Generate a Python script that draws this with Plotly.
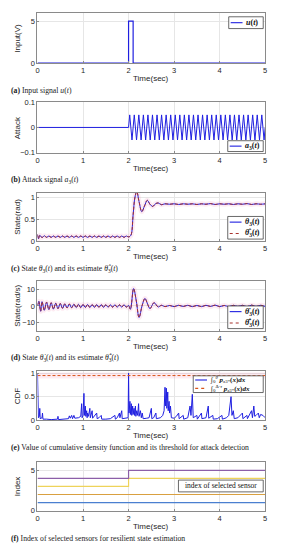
import plotly.graph_objects as go

# ---------------- data ----------------
time_ticks = [0, 1, 2, 3, 4, 5]

# (a) input signal
u_t = [0.0, 2.0, 2.0, 2.1, 2.1, 5.0]
u_v = [0, 0, 5, 5, 0, 0]

# (b) attack signal a3(t)
attack_t = [0.0, 2.0, 2.025, 2.075, 2.125, 2.175, 2.225, 2.275, 2.325, 2.375, 2.425, 2.475,
            2.525, 2.575, 2.625, 2.675, 2.725, 2.775, 2.825, 2.875, 2.925, 2.975,
            3.025, 3.075, 3.125, 3.175, 3.225, 3.275, 3.325, 3.375, 3.425, 3.475,
            3.525, 3.575, 3.625, 3.675, 3.725, 3.775, 3.825, 3.875, 3.925, 3.975,
            4.025, 4.075, 4.125, 4.175, 4.225, 4.275, 4.325, 4.375, 4.425, 4.475,
            4.525, 4.575, 4.625, 4.675, 4.725, 4.775, 4.825, 4.875, 4.925, 4.975, 5.0]
attack_v = [0.0, 0.0, 0.05, -0.05, 0.05, -0.05, 0.05, -0.05, 0.05, -0.05, 0.05, -0.05,
            0.05, -0.05, 0.05, -0.05, 0.05, -0.05, 0.05, -0.05, 0.05, -0.05,
            0.05, -0.05, 0.05, -0.05, 0.05, -0.05, 0.05, -0.05, 0.05, -0.05,
            0.05, -0.05, 0.05, -0.05, 0.05, -0.05, 0.05, -0.05, 0.05, -0.05,
            0.05, -0.05, 0.05, -0.05, 0.05, -0.05, 0.05, -0.05, 0.05, -0.05,
            0.05, -0.05, 0.05, -0.05, 0.05, -0.05, 0.05, -0.05, 0.05, -0.05, 0.0]

# (c) state theta3(t) and its estimate
theta_t = [0.00, 0.02, 0.05, 0.10, 0.15, 0.20, 0.25, 0.30, 0.35, 0.40, 0.45, 0.50, 0.55, 0.60,
           0.65, 0.70, 0.75, 0.80, 0.85, 0.90, 0.95, 1.00, 1.05, 1.10, 1.15, 1.20, 1.25, 1.30,
           1.35, 1.40, 1.45, 1.50, 1.55, 1.60, 1.65, 1.70, 1.75, 1.80, 1.85, 1.90, 1.95, 2.00,
           2.05, 2.10, 2.14, 2.18, 2.23, 2.29, 2.35, 2.41, 2.47, 2.53, 2.59, 2.65, 2.72, 2.80,
           2.90, 3.00, 3.10, 3.20, 3.30, 3.40, 3.50, 3.60, 3.70, 3.80, 3.90, 4.00, 4.10, 4.20,
           4.30, 4.40, 4.50, 4.60, 4.70, 4.80, 4.90, 5.00]
theta_v = [0.15, 0.05, 0.13, 0.08, 0.12, 0.085, 0.115, 0.085, 0.115, 0.085, 0.115, 0.085, 0.115, 0.085,
           0.115, 0.085, 0.115, 0.085, 0.115, 0.085, 0.115, 0.085, 0.115, 0.085, 0.115, 0.085, 0.115, 0.085,
           0.115, 0.085, 0.115, 0.085, 0.115, 0.085, 0.115, 0.085, 0.115, 0.085, 0.115, 0.085, 0.115, 0.095,
           0.13, 0.60, 1.00, 1.13, 0.90, 0.67, 0.80, 0.93, 0.84, 0.79, 0.85, 0.87, 0.83, 0.85,
           0.84, 0.85, 0.835, 0.85, 0.84, 0.85, 0.835, 0.85, 0.84, 0.855, 0.835, 0.85, 0.84, 0.85,
           0.835, 0.85, 0.84, 0.855, 0.835, 0.85, 0.84, 0.85]
theta_hat_v = [0.15, 0.05, 0.13, 0.08, 0.12, 0.085, 0.115, 0.085, 0.115, 0.085, 0.115, 0.085, 0.115, 0.085,
               0.115, 0.085, 0.115, 0.085, 0.115, 0.085, 0.115, 0.085, 0.115, 0.085, 0.115, 0.085, 0.115, 0.085,
               0.115, 0.085, 0.115, 0.085, 0.115, 0.085, 0.115, 0.085, 0.115, 0.085, 0.115, 0.085, 0.115, 0.095,
               0.13, 0.60, 1.00, 1.13, 0.90, 0.67, 0.80, 0.93, 0.84, 0.79, 0.85, 0.87, 0.83, 0.85,
               0.84, 0.85, 0.835, 0.85, 0.84, 0.85, 0.835, 0.85, 0.84, 0.855, 0.835, 0.85, 0.84, 0.85,
               0.835, 0.85, 0.84, 0.855, 0.835, 0.85, 0.84, 0.85]

# (d) state derivative and its estimate
dtheta_t = [0.00, 0.03, 0.07, 0.10, 0.15, 0.20, 0.25, 0.30, 0.35, 0.40, 0.45, 0.50, 0.55, 0.60,
            0.65, 0.70, 0.75, 0.80, 0.85, 0.90, 0.95, 1.00, 1.05, 1.10, 1.15, 1.20, 1.25, 1.30,
            1.35, 1.40, 1.45, 1.50, 1.55, 1.60, 1.65, 1.70, 1.75, 1.80, 1.85, 1.90, 1.95, 2.00,
            2.04, 2.11, 2.17, 2.23, 2.30, 2.36, 2.42, 2.47, 2.56, 2.65, 2.72, 2.80, 2.90, 3.00,
            3.10, 3.20, 3.30, 3.40, 3.50, 3.60, 3.70, 3.80, 3.90, 4.00, 4.10, 4.20, 4.30, 4.40,
            4.50, 4.60, 4.70, 4.80, 4.90, 5.00]
dtheta_v = [0.0, 2.8, -3.2, 2.6, -2.6, 2.3, -2.2, 2.0, -1.9, 1.7, -1.6, 1.5, -1.4, 1.3,
            -1.2, 1.2, -1.1, 1.1, -1.0, 1.0, -1.0, 0.9, -0.9, 0.9, -0.9, 0.8, -0.8, 0.8,
            -0.8, 0.8, -0.8, 0.7, -0.7, 0.7, -0.7, 0.7, -0.7, 0.7, -0.7, 0.7, -0.7, 0.3,
            -2.0, 10.6, 3.0, -7.0, 0.5, 4.6, 1.0, -1.6, 2.0, -0.6, 0.4, -0.4, 0.3, -0.4,
            0.4, -0.3, 0.4, -0.4, 0.3, -0.4, 0.4, -0.3, 0.5, -0.4, 0.3, -0.4, 0.4, -0.3,
            0.4, -0.4, 0.5, -0.3, 0.4, -0.3]
dtheta_hat_v = [0.0, 2.8, -3.2, 2.6, -2.6, 2.3, -2.2, 2.0, -1.9, 1.7, -1.6, 1.5, -1.4, 1.3,
                -1.2, 1.2, -1.1, 1.1, -1.0, 1.0, -1.0, 0.9, -0.9, 0.9, -0.9, 0.8, -0.8, 0.8,
                -0.8, 0.8, -0.8, 0.7, -0.7, 0.7, -0.7, 0.7, -0.7, 0.7, -0.7, 0.7, -0.7, 0.3,
                -2.0, 10.6, 3.0, -7.0, 0.5, 4.6, 1.0, -1.6, 2.0, -0.6, 0.4, -0.4, 0.3, -0.4,
                0.4, -0.3, 0.4, -0.4, 0.3, -0.4, 0.4, -0.3, 0.5, -0.4, 0.3, -0.4, 0.4, -0.3,
                0.4, -0.4, 0.5, -0.3, 0.4, -0.3]

# (e) CDF value and threshold
cdf_t = [0.000, 0.005, 0.020, 0.040, 0.050, 0.060, 0.100, 0.110, 0.120, 0.200, 0.300, 0.440, 0.450, 0.460,
         0.600, 0.680, 0.700, 0.720, 0.750, 0.770, 0.800, 0.820, 0.900, 0.950, 0.970, 0.980, 1.000, 1.020,
         1.030, 1.050, 1.060, 1.080, 1.090, 1.100, 1.120, 1.150, 1.160, 1.200, 1.210, 1.250, 1.300, 1.310,
         1.350, 1.400, 1.410, 1.500, 1.600, 1.700, 1.710, 1.750, 1.800, 1.810, 1.850, 1.860, 1.950, 1.990,
         2.000, 2.010, 2.030, 2.040, 2.060, 2.070, 2.090, 2.100, 2.120, 2.130, 2.150, 2.160, 2.180, 2.200,
         2.220, 2.230, 2.260, 2.280, 2.300, 2.320, 2.400, 2.450, 2.500, 2.510, 2.550, 2.600, 2.610, 2.700,
         2.750, 2.780, 2.800, 2.810, 2.830, 2.840, 2.860, 2.870, 2.890, 2.900, 2.920, 2.940, 3.000, 3.050,
         3.100, 3.110, 3.200, 3.210, 3.300, 3.350, 3.370, 3.400, 3.420, 3.500, 3.510, 3.600, 3.610, 3.700,
         3.750, 3.760, 3.850, 3.860, 3.950, 4.050, 4.060, 4.150, 4.200, 4.250, 4.270, 4.300, 4.320, 4.400,
         4.500, 4.510, 4.600, 4.610, 4.700, 4.720, 4.750, 4.770, 4.800, 4.850, 4.870, 4.900, 4.950, 5.000]
cdf_v = [1.00, 0.10, 0.05, 0.08, 0.25, 0.03, 0.05, 0.15, 0.02, 0.02, 0.01, 0.02, 0.08, 0.01,
         0.02, 0.03, 0.09, 0.04, 0.10, 0.03, 0.10, 0.04, 0.05, 0.08, 0.35, 0.05, 0.10, 0.57,
         0.10, 0.30, 0.08, 0.20, 0.05, 0.15, 0.08, 0.25, 0.05, 0.20, 0.04, 0.08, 0.15, 0.03,
         0.05, 0.10, 0.02, 0.02, 0.03, 0.10, 0.02, 0.05, 0.15, 0.05, 0.20, 0.03, 0.05, 0.05,
         1.00, 0.15, 0.40, 0.12, 0.35, 0.10, 0.30, 0.12, 0.25, 0.10, 0.30, 0.08, 0.20, 0.10,
         0.35, 0.08, 0.20, 0.05, 0.15, 0.03, 0.04, 0.05, 0.25, 0.03, 0.05, 0.15, 0.03, 0.05,
         0.10, 0.20, 0.70, 0.30, 0.68, 0.25, 0.60, 0.20, 0.40, 0.15, 0.30, 0.05, 0.04, 0.08,
         0.15, 0.03, 0.10, 0.02, 0.05, 0.30, 0.10, 0.55, 0.05, 0.10, 0.02, 0.15, 0.03, 0.05,
         0.30, 0.04, 0.10, 0.02, 0.03, 0.10, 0.02, 0.05, 0.10, 0.50, 0.10, 0.20, 0.03, 0.05,
         0.15, 0.03, 0.10, 0.03, 0.20, 0.05, 0.30, 0.08, 0.10, 0.15, 0.05, 0.12, 0.10, 0.05]
thresh_t = [0.0, 5.0]
thresh_v = [0.95, 0.95]

# (f) indices of selected sensors
idx_t_const = [0.0, 5.0]
idx1_v = [1, 1]
idx2_v = [2, 2]
idx_t_step = [0.0, 2.0, 2.0, 5.0]
idx3_v = [3, 3, 4, 4]
idx4_v = [4, 4, 5, 5]

# ---------------- layout helpers ----------------
W, H = 281, 550
XL, XR = 36, 267
# (top, bottom) of each plot box in pixels
boxes = [(9, 60), (100, 151), (192, 241), (282, 332), (373, 423), (466, 515)]
yranges = [[0, 6], [-0.1, 0.1], [0, 1.1], [-15, 15], [0, 1.05], [0, 6]]
yticks = [[0, 5], [-0.1, 0, 0.1], [0, 0.5, 1], [-10, 0, 10], [0, 0.5, 1], [0, 5]]
ytitles = ["Input(V)", "Attack", "State(rad)", "State(rad/s)", "CDF", "Index"]
captions = [
    "<b>(a)</b> Input signal <i>u</i>(<i>t</i>)",
    "<b>(b)</b> Attack signal <i>a</i><sub>3</sub>(<i>t</i>)",
    "<b>(c)</b> State <i>θ</i><sub>3</sub>(<i>t</i>) and its estimate <i>θ̂</i><sub>3</sub>(<i>t</i>)",
    "<b>(d)</b> State <i>θ̇</i><sub>3</sub>(<i>t</i>) and its estimate <i>θ̂̇</i><sub>3</sub>(<i>t</i>)",
    "<b>(e)</b> Value of cumulative density function and its threshold for attack detection",
    "<b>(f)</b> Index of selected sensors for resilient state estimation",
]

def px(x):
    return x / W

def py(y):
    return 1 - y / H

SANS = "Liberation Sans, Arial, sans-serif"
SERIF = "Liberation Serif, Times New Roman, serif"
TXT = "#262626"

fig = go.Figure()
BLUE = "#1f1fe0"
DRED = "#a8322d"
HALO = "rgba(240,120,170,0.15)"

def add(i, x, y, color, width=1.0, dash="solid", shape="linear"):
    fig.add_trace(go.Scatter(x=x, y=y, mode="lines", showlegend=False, hoverinfo="skip",
                             line=dict(color=color, width=width, dash=dash, shape=shape),
                             xaxis=f"x{i}", yaxis=f"y{i}"))

# (a)
add(1, u_t, u_v, BLUE, 1.2)
# (b)
add(2, attack_t, attack_v, BLUE, 1.0)
# (c)
add(3, theta_t, theta_hat_v, HALO, 5, shape="spline")
add(3, theta_t, theta_v, BLUE, 1.0, shape="spline")
add(3, theta_t, theta_hat_v, DRED, 1.0, dash="3px,2px", shape="spline")
# (d)
add(4, dtheta_t, dtheta_hat_v, HALO, 5, shape="spline")
add(4, dtheta_t, dtheta_v, BLUE, 1.0, shape="spline")
add(4, dtheta_t, dtheta_hat_v, DRED, 1.0, dash="3px,2px", shape="spline")
# (e)
add(5, thresh_t, thresh_v, HALO, 6)
add(5, cdf_t, cdf_v, BLUE, 1.0)
add(5, thresh_t, thresh_v, "#d9541a", 1.0, dash="3px,2px")
# (f)
add(6, idx_t_const, idx1_v, "#4a7fd0", 1.2)
add(6, idx_t_const, idx2_v, "#d9a040", 1.2)
add(6, idx_t_step, idx3_v, "#eed35a", 1.2)
add(6, idx_t_step, idx4_v, "#8c5fa8", 1.2)

layout = dict(width=W, height=H, margin=dict(l=0, r=0, t=0, b=0),
              paper_bgcolor="white", plot_bgcolor="white", showlegend=False,
              font=dict(family=SANS, size=8, color=TXT))
annotations = []
shapes = []
for k in range(6):
    i = k + 1
    top, bot = boxes[k]
    ax = dict(domain=[px(XL), px(XR)], anchor=f"y{i}", range=[0, 5], tickvals=time_ticks,
              showgrid=True, gridcolor="#e6e6e6", gridwidth=1, zeroline=False,
              showline=True, mirror=True, linecolor="#8a8a8a", linewidth=1,
              ticks="inside", ticklen=2, tickcolor="#8a8a8a",
              tickfont=dict(family=SANS, size=7.5, color=TXT), fixedrange=True)
    ay = dict(domain=[py(bot), py(top)], anchor=f"x{i}", range=yranges[k], tickvals=yticks[k],
              showgrid=True, gridcolor="#e6e6e6", gridwidth=1, zeroline=False,
              showline=True, mirror=True, linecolor="#8a8a8a", linewidth=1,
              ticks="inside", ticklen=2, tickcolor="#8a8a8a",
              tickfont=dict(family=SANS, size=7.5, color=TXT), fixedrange=True)
    layout[f"xaxis{i}"] = ax
    layout[f"yaxis{i}"] = ay
    annotations.append(dict(text="Time(sec)", x=px((XL + XR) / 2), y=py(bot + 16), xref="paper", yref="paper",
                            showarrow=False, font=dict(family=SANS, size=8, color=TXT),
                            xanchor="center", yanchor="middle"))
    annotations.append(dict(text=ytitles[k], x=px(16), y=py((top + bot) / 2), xref="paper", yref="paper",
                            textangle=-90, showarrow=False, font=dict(family=SANS, size=8, color=TXT),
                            xanchor="center", yanchor="middle"))
    annotations.append(dict(text=captions[k], x=px(7), y=py(bot + 28), xref="paper", yref="paper",
                            showarrow=False, font=dict(family=SERIF, size=7.7, color="#1a1a1a"),
                            xanchor="left", yanchor="middle"))

def legend_box(x0, x1, y0, y1, entries, fontsize=8):
    shapes.append(dict(type="rect", xref="paper", yref="paper", x0=px(x0), x1=px(x1), y0=py(y1), y1=py(y0),
                       fillcolor="white", line=dict(color="#444", width=0.8), layer="above"))
    n = len(entries)
    rowh = (y1 - y0) / n
    for j, (label, color, dash) in enumerate(entries):
        yc = y0 + rowh * (j + 0.5)
        shapes.append(dict(type="line", xref="paper", yref="paper", x0=px(x0 + 2), x1=px(x0 + 14),
                           y0=py(yc), y1=py(yc), line=dict(color=color, width=1.1, dash=dash), layer="above"))
        annotations.append(dict(text=label, x=px(x0 + 15), y=py(yc), xref="paper", yref="paper",
                                showarrow=False, xanchor="left", yanchor="middle",
                                font=dict(family=SERIF, size=fontsize, color="#111")))

legend_box(230, 265, 13, 25, [("<b><i>u</i>(<i>t</i>)</b>", BLUE, "solid")])
legend_box(229, 265, 139, 150, [("<b><i>a</i><sub>3</sub>(<i>t</i>)</b>", BLUE, "solid")])
legend_box(229, 265, 216, 239, [("<b><i>θ</i><sub>3</sub>(<i>t</i>)</b>", BLUE, "solid"),
                                ("<b><i>θ̂</i><sub>3</sub>(<i>t</i>)</b>", DRED, "dot")])
legend_box(229, 265, 307, 330, [("<b><i>θ̇</i><sub>3</sub>(<i>t</i>)</b>", BLUE, "solid"),
                                ("<b><i>θ̂̇</i><sub>3</sub>(<i>t</i>)</b>", DRED, "dot")])
legend_box(194, 265, 378, 395, [("∫<sub>0</sub><sup><i>θ</i></sup> <b><i>p</i></b><sub><i>x</i>3*</sub><b>(<i>x</i>)<i>dx</i></b>", BLUE, "solid"),
                                ("∫<sub>0</sub><sup>Δ·<i>τ</i></sup> <b><i>p</i></b><sub><i>x</i>3*</sub><b>(<i>x</i>)<i>dx</i></b>", "#d9541a", "dot")],
           fontsize=7)
# (f) text box
shapes.append(dict(type="rect", xref="paper", yref="paper", x0=px(179), x1=px(265), y0=py(496), y1=py(484),
                   fillcolor="white", line=dict(color="#444", width=0.8), layer="above"))
annotations.append(dict(text="index of selected sensor", x=px(222), y=py(490), xref="paper", yref="paper",
                        showarrow=False, xanchor="center", yanchor="middle",
                        font=dict(family=SERIF, size=7.5, color="#111")))

layout["annotations"] = annotations
layout["shapes"] = shapes
fig.update_layout(**layout)
fig.write_html("out.html", config={"displayModeBar": False, "staticPlot": True},
               post_script="document.body.style.margin='0';document.body.style.overflow='hidden';")
